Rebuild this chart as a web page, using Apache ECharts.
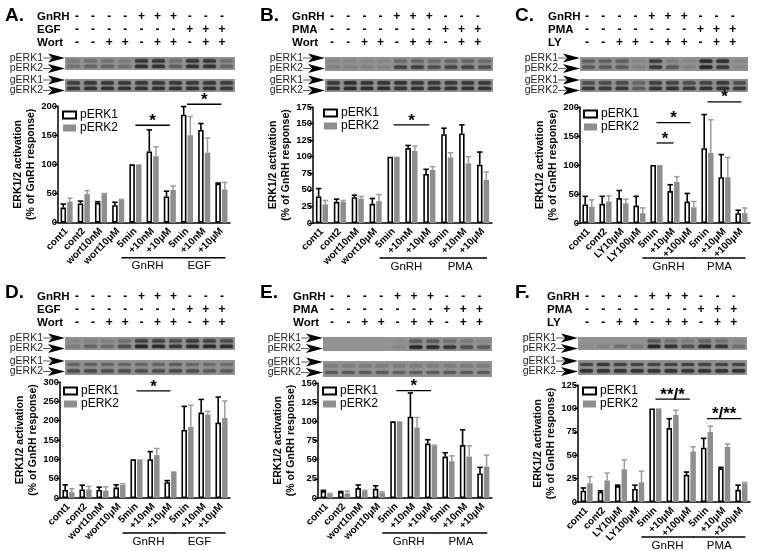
<!DOCTYPE html>
<html><head><meta charset="utf-8">
<script src="https://cdn.jsdelivr.net/npm/echarts@6/dist/echarts.min.js"></script>
<style>html,body{margin:0;padding:0;background:#fff}#c{width:764px;height:551px}</style>
</head><body><div id="c"></div>
<script>
// ---------------- DATA ----------------
const catsWort = ['cont1','cont2','wort10nM','wort10\u03bcM','5min','+10nM','+10\u03bcM','5min','+10nM','+10\u03bcM'];
const catsLY   = ['cont1','cont2','LY10\u03bcM','LY100\u03bcM','5min','+10\u03bcM','+100\u03bcM','5min','+10\u03bcM','+100\u03bcM'];

// mean values and SEM (% of GnRH response)
const A_pERK1 = [26,33,34,30,100,122,45,185,159,67];
const A_pERK1_sem = [6,4,2,5,0,37,9,14,11,1];
const A_pERK2 = [36,49,49,39,100,114,56,150,120,57];
const A_pERK2_sem = [6,6,1,1,0,16,7,32,25,12];

const B_pERK1 = [40,32,39,29,100,113,74,134,135,88];
const B_pERK1_sem = [12,4,3,8,0,4,7,9,13,19];
const B_pERK2 = [28,32,37,33,100,109,80,99,90,65];
const B_pERK2_sem = [6,2,3,10,0,7,5,7,10,12];

const C_pERK1 = [32,33,43,30,100,55,37,129,79,17];
const C_pERK1_sem = [14,13,13,16,0,11,14,58,39,5];
const C_pERK2 = [28,37,34,17,100,71,27,121,79,17];
const C_pERK2_sem = [12,10,7,9,0,9,10,57,34,9];

const D_pERK1 = [21,22,21,27,100,100,41,176,221,195];
const D_pERK1_sem = [13,11,7,7,0,20,4,61,34,66];
const D_pERK2 = [15,22,19,34,100,111,69,184,216,207];
const D_pERK2_sem = [9,8,10,3,0,17,0,56,8,44];

const E_pERK1 = [9,8,13,12,100,106,71,54,69,32];
const E_pERK1_sem = [1,0.5,4,4,0,31,5,5,20,8];
const E_pERK2 = [5,6,9,7,100,92,68,48,54,41];
const E_pERK2_sem = [1,3,1,1,0,13,1,7,14,15];

const F_pERK1 = [12,11,17,14,100,79,29,58,36,13];
const F_pERK1_sem = [3,1,1,4,0,10,3,10,1,5];
const F_pERK2 = [20,23,35,21,100,93,54,75,59,20];
const F_pERK2_sem = [7,8,10,12,0,5,5,6,3,1];

// y-axis ranges [max, interval]
const yRanges = {A:[200,50], B:[175,25], C:[200,50], D:[300,50], E:[150,25], F:[125,25]};

// treatments
const treatNames = {A:['GnRH','EGF','Wort'], B:['GnRH','PMA','Wort'], C:['GnRH','PMA','LY'],
                    D:['GnRH','EGF','Wort'], E:['GnRH','PMA','Wort'], F:['GnRH','PMA','LY']};
const rowGnRH  = ['-','-','-','-','+','+','+','-','-','-'];
const rowStim  = ['-','-','-','-','-','-','-','+','+','+'];
const rowInhib = ['-','-','+','+','-','+','+','-','+','+'];
const groupNames = {A:['GnRH','EGF'], B:['GnRH','PMA'], C:['GnRH','PMA'], D:['GnRH','EGF'], E:['GnRH','PMA'], F:['GnRH','PMA']};

// significance brackets: [fromCat, toCat, level, label]
const sigA = [[4,6,167,'*'],[7,9,203,'*']];
const sigB = [[4,6,148,'*']];
const sigC = [[4,6,173,'*'],[4,5,138,'*'],[7,9,209,'*']];
const sigD = [[4,6,277,'*']];
const sigE = [[4,6,140,'*']];
const sigF = [[4,6,110,'**/*'],[7,9,89,'*/**']];

// blot band intensities per lane (0..1): pERK1, pERK2, gERK1, gERK2
const blotA = [[0.2,0.3,0.3,0.2,0.8,0.8,0.3,0.8,0.8,0.3],[0.3,0.4,0.4,0.3,0.85,0.85,0.45,0.85,0.85,0.4],[0.75,0.8,0.8,0.8,0.8,0.8,0.8,0.8,0.8,0.75],[0.8,0.85,0.85,0.85,0.85,0.85,0.85,0.85,0.85,0.8]];
const blotB = [[0.1,0.1,0.1,0.1,0.35,0.4,0.35,0.4,0.4,0.35],[0.15,0.15,0.15,0.15,0.7,0.75,0.6,0.7,0.7,0.6],[0.8,0.9,0.85,0.85,0.85,0.8,0.8,0.8,0.8,0.8],[0.85,0.9,0.9,0.9,0.85,0.85,0.85,0.85,0.85,0.85]];
const blotC = [[0.45,0.45,0.45,0.1,0.75,0.2,0.1,0.9,0.85,0.1],[0.5,0.5,0.5,0.15,0.8,0.5,0.15,0.95,0.8,0.1],[0.6,0.65,0.65,0.4,0.75,0.7,0.6,0.7,0.8,0.6],[0.8,0.8,0.8,0.5,0.85,0.85,0.8,0.85,0.85,0.8]];
const blotD = [[0.1,0.15,0.15,0.3,0.7,0.7,0.6,0.75,0.7,0.6],[0.2,0.4,0.35,0.6,0.95,0.9,0.8,0.9,0.9,0.9],[0.4,0.45,0.4,0.4,0.4,0.4,0.5,0.4,0.35,0.35],[0.6,0.65,0.6,0.6,0.6,0.6,0.65,0.6,0.5,0.5]];
const blotE = [[0,0,0,0,0.05,0.5,0.5,0.3,0.2,0.1],[0,0,0,0,0.1,0.95,0.9,0.8,0.6,0.5],[0.2,0.2,0.2,0.2,0.2,0.2,0.2,0.2,0.2,0.2],[0.5,0.5,0.5,0.5,0.45,0.45,0.5,0.5,0.5,0.5]];
const blotF = [[0,0,0,0,0.5,0.3,0.2,0.4,0.3,0.1],[0.05,0.15,0.3,0.2,0.95,0.85,0.6,0.9,0.8,0.3],[0.7,0.8,0.7,0.7,0.7,0.7,0.7,0.7,0.7,0.7],[0.85,0.85,0.85,0.85,0.85,0.85,0.85,0.85,0.85,0.85]];

// ---------------- ASSEMBLY ----------------
const FONT = "'Liberation Sans', Arial, sans-serif";
const ids = ['A','B','C','D','E','F'];
const panelData = {
  A:{cats:catsWort, p1:A_pERK1, s1:A_pERK1_sem, p2:A_pERK2, s2:A_pERK2_sem, sig:sigA, blot:blotA},
  B:{cats:catsWort, p1:B_pERK1, s1:B_pERK1_sem, p2:B_pERK2, s2:B_pERK2_sem, sig:sigB, blot:blotB},
  C:{cats:catsLY,   p1:C_pERK1, s1:C_pERK1_sem, p2:C_pERK2, s2:C_pERK2_sem, sig:sigC, blot:blotC},
  D:{cats:catsWort, p1:D_pERK1, s1:D_pERK1_sem, p2:D_pERK2, s2:D_pERK2_sem, sig:sigD, blot:blotD},
  E:{cats:catsWort, p1:E_pERK1, s1:E_pERK1_sem, p2:E_pERK2, s2:E_pERK2_sem, sig:sigE, blot:blotE},
  F:{cats:catsLY,   p1:F_pERK1, s1:F_pERK1_sem, p2:F_pERK2, s2:F_pERK2_sem, sig:sigF, blot:blotF}
};
// layout (pixels)
const L = {
  A:{grid:[58,106,230,222.7], sx:77, ss:16.1, lx:37, rows:[17,30,43], bx:[65,235], b1:[57,70], b2:[79,92], leg:[62,109], let:[5,6]},
  B:{grid:[313,107,492,223], sx:332, ss:16.2, lx:292, rows:[17,30,43], bx:[325,493], b1:[57,71], b2:[79,92], leg:[323,107], let:[260,6]},
  C:{grid:[580,107,750,223], sx:587, ss:16.2, lx:548, rows:[17,30,43], bx:[580,748], b1:[57,71], b2:[79,92], leg:[583,108], let:[515,6]},
  D:{grid:[60,382,230,498], sx:77, ss:16.1, lx:37, rows:[297,310,323], bx:[65,235], b1:[337,350], b2:[360,375], leg:[63,385], let:[5,283]},
  E:{grid:[318,383,492,498], sx:332, ss:16.4, lx:293, rows:[297,310,323], bx:[323,492], b1:[337,351], b2:[361,377], leg:[322,385], let:[260,283]},
  F:{grid:[578,385,750,502], sx:587, ss:16.3, lx:547, rows:[297,310,323], bx:[578,747], b1:[337,350], b2:[360,375], leg:[582,385], let:[515,283]}
};

const BW = 5.5, OFF = 3.3;
function errRender(offset, color, lw){
  return function(params, api){
    const x = api.value(0), m = api.value(1), s = api.value(2);
    if (!s) return {type:'group', children:[]};
    const p0 = api.coord([x, m]); const p1 = api.coord([x, m + s]);
    const cx = p0[0] + offset;
    return {type:'group', children:[
      {type:'line', shape:{x1:cx,y1:p0[1],x2:cx,y2:p1[1]}, style:{stroke:color,lineWidth:lw}},
      {type:'line', shape:{x1:cx-2.7,y1:p1[1],x2:cx+2.7,y2:p1[1]}, style:{stroke:color,lineWidth:lw}}
    ]};
  };
}

const grids=[], xAxes=[], yAxes=[], series=[], legends=[];
ids.forEach((id, i) => {
  const c = L[id], d = panelData[id];
  grids.push({left:c.grid[0], top:c.grid[1], width:c.grid[2]-c.grid[0], height:c.grid[3]-c.grid[1], containLabel:false});
  xAxes.push({type:'category', gridIndex:i, data:d.cats,
    axisLine:{lineStyle:{color:'#000', width:1.5}},
    axisTick:{alignWithLabel:true, length:4, lineStyle:{color:'#000', width:1.2}},
    axisLabel:{interval:0, rotate:45, fontSize:10, fontWeight:'bold', color:'#000', fontFamily:FONT, margin:7}});
  yAxes.push({type:'value', gridIndex:i, min:0, max:yRanges[id][0], interval:yRanges[id][1],
    name:'ERK1/2 activation\n(% of GnRH response)', nameLocation:'middle', nameGap:18,
    nameTextStyle:{fontSize:10.5, fontWeight:'bold', color:'#000', fontFamily:FONT, lineHeight:12.5},
    axisLine:{show:true, lineStyle:{color:'#000', width:1.5}},
    axisTick:{show:true, length:4, lineStyle:{color:'#000', width:1.2}},
    axisLabel:{fontSize:9.5, fontWeight:'bold', color:'#000', fontFamily:FONT, margin:1},
    splitLine:{show:false}});
  series.push({type:'bar', name:'pERK1', xAxisIndex:i, yAxisIndex:i, data:d.p1, barWidth:BW, barGap:'20%',
    itemStyle:{color:'#fff', borderColor:'#000', borderWidth:1.6}});
  series.push({type:'bar', name:'pERK2', xAxisIndex:i, yAxisIndex:i, data:d.p2, barWidth:BW, barGap:'20%',
    itemStyle:{color:'#8e8e8e'}});
  series.push({type:'custom', name:'err1', xAxisIndex:i, yAxisIndex:i, z:5,
    data:d.p1.map((v,k)=>[k,v,d.s1[k]]), renderItem:errRender(-OFF,'#000',1.6), encode:{x:0,y:1}});
  series.push({type:'custom', name:'err2', xAxisIndex:i, yAxisIndex:i, z:5,
    data:d.p2.map((v,k)=>[k,v,d.s2[k]]), renderItem:errRender(OFF,'#9c9c9c',1.5), encode:{x:0,y:1}});
  legends.push({left:c.leg[0], top:c.leg[1], orient:'vertical', padding:0, itemGap:1, itemWidth:13, itemHeight:7,
    icon:'rect', data:['pERK1','pERK2'], selectedMode:false,
    textStyle:{fontSize:12, color:'#000', fontFamily:FONT, padding:[0,0,0,-1]}});
});

const chart = echarts.init(document.getElementById('c'), null, {renderer:'canvas'});
chart.setOption({animation:false, backgroundColor:'#fff', grid:grids, xAxis:xAxes, yAxis:yAxes, series:series, legend:legends});

// ---------- decorations: letters, treatment tables, blots, brackets, significance ----------
function txt(x,y,text,font,align,va,fill){
  return {type:'text', silent:true, x:x, y:y, style:{text:text, font:font, fill:fill||'#000',
    align:align||'left', textAlign:align||'left', verticalAlign:va||'middle', textVerticalAlign:va||'middle'}};
}
function mix(a,b,t){return Math.round(a+(b-a)*t);}
function grey(v){const h=v.toString(16).padStart(2,'0');return '#'+h+h+h;}
const G = [];
ids.forEach((id, i) => {
  const c = L[id], d = panelData[id];
  G.push(txt(c.let[0], c.let[1], id + '.', 'bold 19px ' + FONT, 'left', 'top'));
  // treatment table
  const rows = [rowGnRH, rowStim, rowInhib];
  treatNames[id].forEach((nm, r) => {
    G.push(txt(c.lx, c.rows[r], nm, 'bold 11.5px ' + FONT, 'left', 'middle'));
    rows[r].forEach((s, k) => G.push(txt(c.sx + k*c.ss, c.rows[r], s, 'bold 12px ' + FONT, 'center', 'middle')));
  });
  // blots
  const bw = c.bx[1]-c.bx[0], lane = bw/10;
  [[c.b1, d.blot[0], d.blot[1], 'pERK'], [c.b2, d.blot[2], d.blot[3], 'gERK']].forEach(([by, up, lo, lab]) => {
    const h = by[1]-by[0];
    G.push({type:'rect', silent:true, shape:{x:c.bx[0], y:by[0], width:bw, height:h}, style:{fill:'#939393'}});
    for (let k=0;k<10;k++){
      [[up[k], 0.3], [lo[k], 0.72]].forEach(([t, f]) => {
        if (t <= 0.02) return;
        const col = grey(mix(0x93, 0x22, t));
        G.push({type:'rect', silent:true, shape:{x:c.bx[0]+k*lane+lane*0.12, y:by[0]+h*f-1.6, width:lane*0.76, height:3.2, r:1.5},
          style:{fill:col, shadowBlur:2, shadowColor:col}});
      });
    }
    [[by[0]+1, lab+'1'], [by[0]+11.5, lab+'2']].forEach(([ay, t]) => {
      const tip = c.bx[0];
      G.push({type:'polygon', silent:true, shape:{points:[[tip-17,ay-4.5],[tip,ay],[tip-17,ay+4.5],[tip-13,ay]]}, style:{fill:'#000'}});
      G.push({type:'line', silent:true, shape:{x1:tip-22,y1:ay,x2:tip-14,y2:ay}, style:{stroke:'#333', lineWidth:0.8}});
      G.push(txt(tip-22, ay, t, '10.5px ' + FONT, 'right', 'middle', '#222'));
    });
  });
  // group brackets under x labels
  const yb = c.grid[3] + 35;
  [[4,6,groupNames[id][0]],[7,9,groupNames[id][1]]].forEach(([a,b,nm]) => {
    const pa = chart.convertToPixel({gridIndex:i}, [a, 0]);
    const pb = chart.convertToPixel({gridIndex:i}, [b, 0]);
    G.push({type:'line', silent:true, shape:{x1:pa[0]-14, y1:yb, x2:pb[0]+4, y2:yb}, style:{stroke:'#000', lineWidth:1.5}});
    G.push(txt((pa[0]-14+pb[0]+4)/2, yb+8.5, nm, '11.5px ' + FONT, 'center', 'middle'));
  });
  // significance
  d.sig.forEach(([a,b,lev,t]) => {
    const pa = chart.convertToPixel({gridIndex:i}, [a, lev]);
    const pb = chart.convertToPixel({gridIndex:i}, [b, lev]);
    G.push({type:'line', silent:true, shape:{x1:pa[0], y1:pa[1], x2:pb[0], y2:pb[1]}, style:{stroke:'#000', lineWidth:1.3}});
    G.push(txt((pa[0]+pb[0])/2, pa[1]-4, t, 'bold 17px ' + FONT, 'center', 'middle'));
  });
});
chart.setOption({graphic:{elements:G}});
</script></body></html>
